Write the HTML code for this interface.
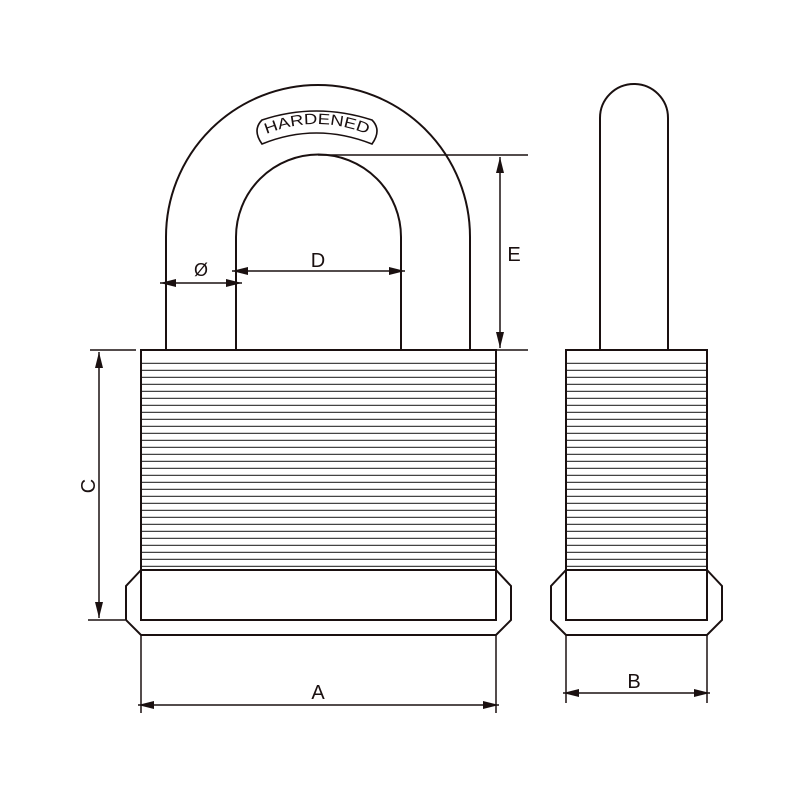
<!DOCTYPE html>
<html><head><style>body{margin:0;background:#fff}svg{display:block}</style></head>
<body>
<svg width="800" height="800" viewBox="0 0 800 800" xmlns="http://www.w3.org/2000/svg">
<defs>
<pattern id="rib" patternUnits="userSpaceOnUse" x="0" y="357" width="10" height="7">
<line x1="0" y1="6.5" x2="10" y2="6.5" stroke="#444" stroke-width="1.5"/>
</pattern>
<marker id="arl" viewBox="0 0 16 8" refX="16" refY="4" markerWidth="16" markerHeight="8" orient="auto-start-reverse" markerUnits="userSpaceOnUse">
<path d="M0,0 L16,4 L0,8 Z" fill="#1a1010"/></marker>
<path id="arc" d="M262,136 Q316,112 372,136"/>
</defs>
<g fill="none" stroke="#1a1010" stroke-width="2">
<path d="M166,350 V237 A152,152 0 0 1 470,237 V350"/>
<path d="M236,350 V237 A82.5,82.5 0 0 1 401,237 V350"/>
<path d="M262,120 Q316,102 372,120 Q382,130 372,144 Q316,122 262,144 Q252,130 262,120 Z" stroke-width="1.6"/>
<rect x="141" y="357" width="355" height="212" fill="url(#rib)" stroke="none"/>
<rect x="141" y="350" width="355" height="220"/>
<rect x="141" y="570" width="355" height="50"/>
<path d="M141,570 L126,586 V620 L141,635 H496 L511,620 V586 L496,570"/>
<path d="M600,350 V118 A34,34 0 0 1 668,118 V350"/>
<rect x="566" y="357" width="141" height="212" fill="url(#rib)" stroke="none"/>
<rect x="566" y="350" width="141" height="220"/>
<rect x="566" y="570" width="141" height="50"/>
<path d="M566,570 L551,586 V620 L566,635 H707 L722,620 V586 L707,570"/>
</g>
<g stroke="#1a1010" stroke-width="1.5" fill="none">
<line x1="318" y1="155" x2="528" y2="155"/>
<line x1="318" y1="350" x2="528" y2="350"/>
<line x1="500" y1="157" x2="500" y2="348" marker-start="url(#arl)" marker-end="url(#arl)"/>
<line x1="90" y1="350" x2="136" y2="350"/>
<line x1="88" y1="620" x2="125" y2="620"/>
<line x1="99" y1="352" x2="99" y2="618" marker-start="url(#arl)" marker-end="url(#arl)"/>
<line x1="141" y1="635" x2="141" y2="713"/>
<line x1="496" y1="635" x2="496" y2="713"/>
<line x1="138" y1="705" x2="499" y2="705" marker-start="url(#arl)" marker-end="url(#arl)"/>
<line x1="566" y1="635" x2="566" y2="703"/>
<line x1="707" y1="635" x2="707" y2="703"/>
<line x1="563" y1="693" x2="710" y2="693" marker-start="url(#arl)" marker-end="url(#arl)"/>
<line x1="232" y1="271" x2="405" y2="271" marker-start="url(#arl)" marker-end="url(#arl)"/>
<line x1="160" y1="283" x2="242" y2="283" marker-start="url(#arl)" marker-end="url(#arl)"/>
</g>
<g font-family="Liberation Sans, sans-serif" fill="#1a1010" font-size="20" text-anchor="middle">
<text x="318" y="267">D</text>
<text x="201" y="276" font-size="18">Ø</text>
<text x="514" y="261">E</text>
<text x="88" y="493" transform="rotate(-90 88 486)">C</text>
<text x="318" y="699">A</text>
<text x="634" y="688">B</text>
<text font-size="15"><textPath href="#arc" startOffset="50%" textLength="104" lengthAdjust="spacingAndGlyphs">HARDENED</textPath></text>
</g>
</svg>
</body></html>
